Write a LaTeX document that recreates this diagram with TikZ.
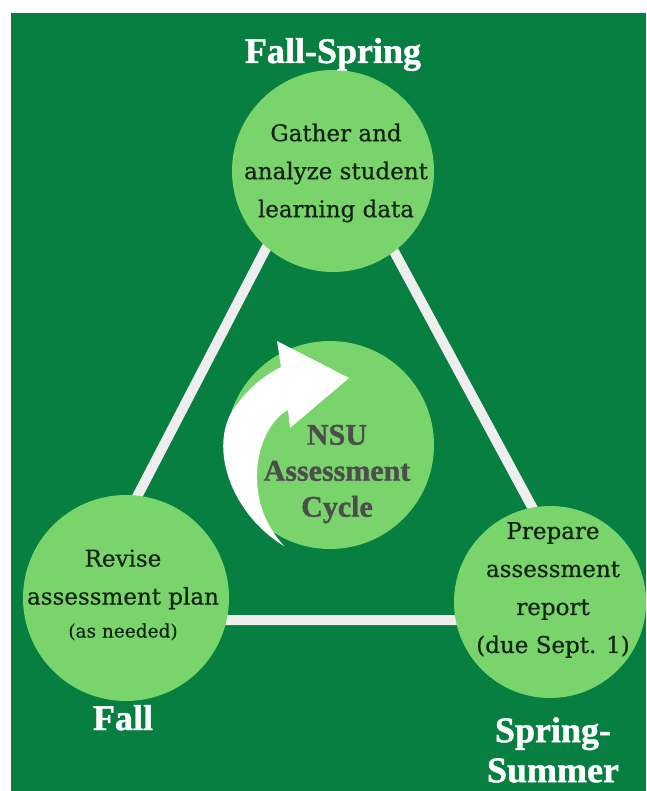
\documentclass[tikz,border=0pt]{standalone}
\usepackage{fontspec}
\usetikzlibrary{positioning}

\newfontfamily\headfont{Liberation Serif}[BoldFont={Liberation Serif Bold}, BoldFeatures={FakeBold=1.2}]
\newfontfamily\bodyfont{DejaVu Serif}[BoldFont={DejaVu Serif}, BoldFeatures={FakeBold=0.6}]

\definecolor{nsugreen}{HTML}{067F40}
\definecolor{lightgreen}{HTML}{7AD46C}
\definecolor{linegray}{HTML}{EEEEEE}
\definecolor{bodyink}{HTML}{142414}
\definecolor{hubink}{HTML}{4D4D4D}

\begin{document}
\begin{tikzpicture}[x=1pt, y=-1pt, align=center,
   stage/.style={shape=circle, fill=lightgreen, minimum size=#1, inner sep=0pt},
   season/.style={text=white, font=\headfont\bfseries\fontsize{36}{40}\selectfont, inner sep=0pt},
   bodytext/.style={text=bodyink, font=\bodyfont\bfseries\fontsize{23}{38}\selectfont, inner sep=0pt},
   hubtext/.style={text=hubink, font=\headfont\bfseries\fontsize{30}{36}\selectfont, inner sep=0pt}]

   \useasboundingbox (0,0) rectangle (646,791);
   \fill[white] (0,0) rectangle (646,791);
   \fill[nsugreen] (11,13) rectangle (646,791);

   % triangle behind the circles
   \coordinate (apex) at (328,129);
   \coordinate (fallcorner) at (73,620);
   \coordinate (summercorner) at (593,620);
   \draw[linegray, line width=10pt] (apex) -- (fallcorner) -- (summercorner) -- cycle;

   \node[stage=202pt] (gather) at (333,171) {};
   \node[stage=206pt] (revise) at (126,598) {};
   \node[stage=192pt] (report) at (550,602) {};
   \node[stage=208pt] (hub) at (330,445) {};

   \node[bodytext] (gathertext) at (336,173) {Gather and\\analyze student\\learning data};
   \node[bodytext] (revisetext) at (123,595) {Revise\\assessment plan\\[-5pt]{\fontsize{18.5}{22}\selectfont (as needed)}};
   \node[bodytext] (reporttext) at (553,590) {Prepare\\assessment\\report\\(due Sept. 1)};

   % curved arrow
   \fill[white] (284,546) .. controls (228,512) and (206,440) .. (238,403)
      .. controls (250,387) and (265,375) .. (281,367) -- (277,341) -- (349,378)
      -- (290,428) -- (288,410) .. controls (272,418) and (256,445) .. (257,480)
      .. controls (258,510) and (270,530) .. (284,546) -- cycle;

   \node[hubtext] (hubname) at (337,474) {NSU\\Assessment\\Cycle};

   \node[season, anchor=base] (fallspring) at (333,63) {Fall-Spring};
   \node[season, anchor=base] (fall) at (123,730) {Fall};
   \node[season, anchor=north] (springsummer) at (553,717) {Spring-\\Summer};

\end{tikzpicture}
\end{document}
